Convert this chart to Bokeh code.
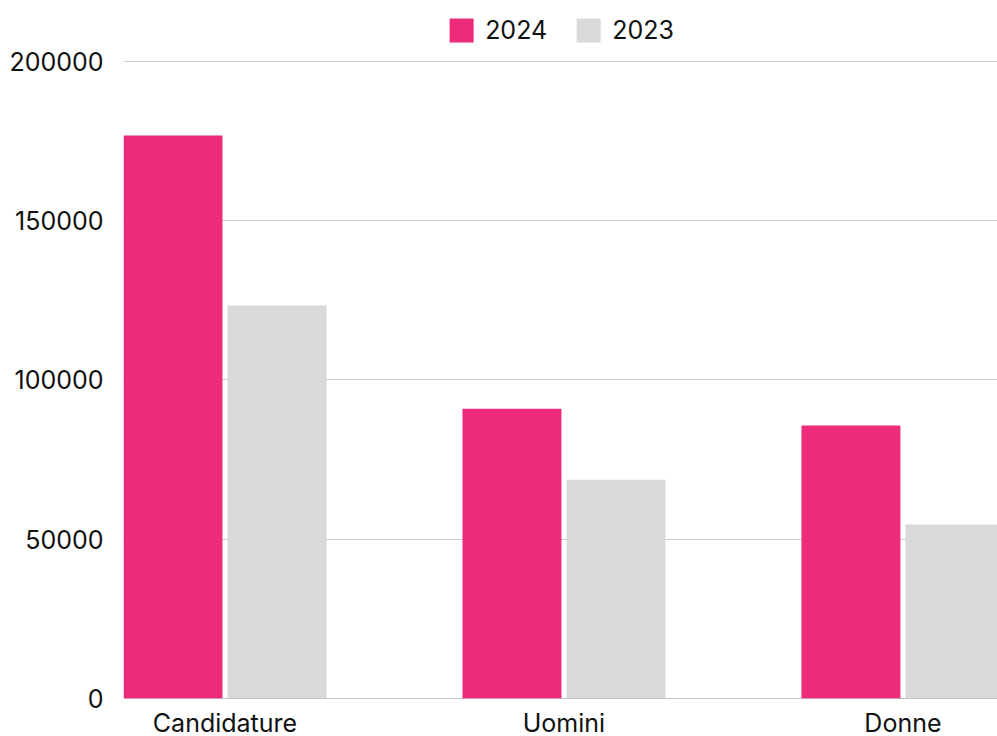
from bokeh.plotting import figure
from bokeh.models import ColumnDataSource, Range1d, FixedTicker, Span, NumeralTickFormatter
from bokeh.transform import dodge
from bokeh.embed import file_html
from bokeh.resources import INLINE

categories = ["Candidature", "Uomini", "Donne"]
years = ["2024", "2023"]
values_2024 = [176800, 91000, 85700]
values_2023 = [123400, 68700, 54600]
y_ticks = [0, 50000, 100000, 150000, 200000]

FONT = "Inter"
PINK = "#EE2B7B"
GREY = "#D9D9D9"

x_pos = list(range(len(categories)))
src = ColumnDataSource(dict(x=x_pos, v2024=values_2024, v2023=values_2023))

p = figure(frame_width=874, frame_height=690, output_backend="svg", toolbar_location=None,
           x_range=Range1d(-0.2994, 2.279), y_range=Range1d(0, 216640),
           min_border_left=123, min_border_right=0, min_border_top=8, min_border_bottom=0)

p.vbar(x=dodge("x", -0.1534, range=p.x_range), top="v2024", width=0.292, source=src,
       fill_color=PINK, line_color=None, legend_label=years[0])
p.vbar(x=dodge("x", 0.1534, range=p.x_range), top="v2023", width=0.292, source=src,
       fill_color=GREY, line_color=None, legend_label=years[1])

p.add_layout(Span(location=0, dimension="width", line_color="#888888", line_width=1, level="underlay"))

p.outline_line_color = None
p.background_fill_color = "white"
p.border_fill_color = "white"
p.xgrid.grid_line_color = None
p.ygrid.grid_line_color = "#CCCCCC"
p.ygrid.ticker = FixedTicker(ticks=y_ticks)

p.yaxis.ticker = FixedTicker(ticks=y_ticks)
p.yaxis.formatter = NumeralTickFormatter(format="0")
p.yaxis.axis_line_color = None
p.yaxis.major_tick_line_color = None
p.yaxis.minor_tick_line_color = None
p.yaxis.major_label_standoff = 14
p.yaxis.major_label_text_font = FONT
p.yaxis.major_label_text_font_size = "25px"
p.yaxis.major_label_text_color = "#111111"

p.xaxis.ticker = FixedTicker(ticks=x_pos)
p.xaxis.major_label_overrides = {i: c for i, c in zip(x_pos, categories)}
p.xaxis.axis_line_color = None
p.xaxis.major_tick_line_color = None
p.xaxis.minor_tick_line_color = None
p.xaxis.major_label_standoff = 3
p.xaxis.major_label_text_font = FONT
p.xaxis.major_label_text_font_size = "25px"
p.xaxis.major_label_text_color = "#111111"

p.legend.location = "top_center"
p.legend.orientation = "horizontal"
p.legend.margin = 7
p.legend.padding = 0
p.legend.glyph_width = 30
p.legend.glyph_height = 30
p.legend.label_standoff = 9
p.legend.spacing = 26
p.legend.label_text_font = FONT
p.legend.label_text_font_size = "25px"
p.legend.label_text_color = "#111111"
p.legend.background_fill_alpha = 0
p.legend.border_line_color = None

open("out.html", "w").write(file_html(p, INLINE))
